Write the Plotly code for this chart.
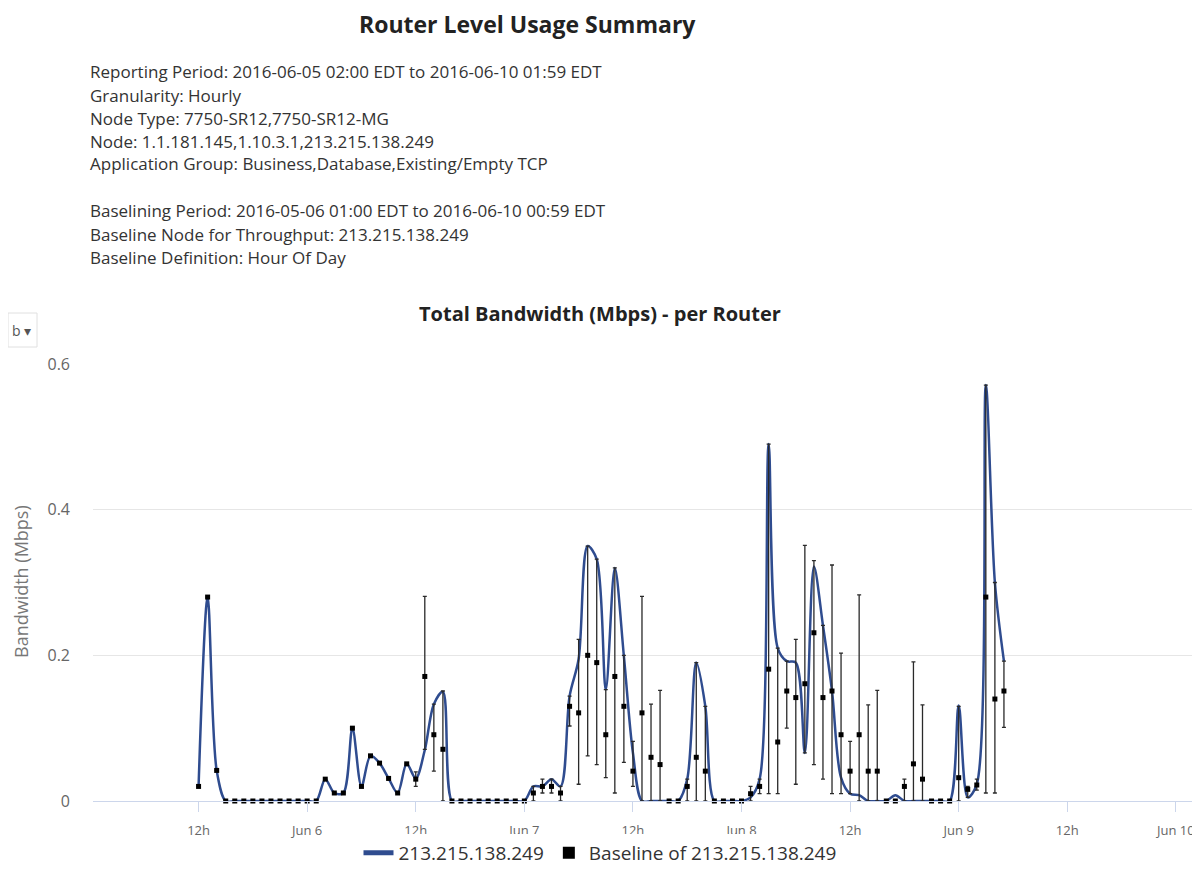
import plotly.graph_objects as go
import pandas as pd

# ---------------- data ----------------
series_name = "213.215.138.249"
baseline_name = "Baseline of 213.215.138.249"
start_time = "2016-06-05 12:00"

bandwidth = [
    0.02, 0.28, 0.042, 0, 0, 0, 0, 0, 0, 0, 0, 0, 0, 0,
    0.03, 0.011, 0.011, 0.10, 0.02, 0.062, 0.052, 0.031, 0.011, 0.051, 0.031, 0.07, 0.133, 0.15,
    0, 0, 0, 0, 0, 0, 0, 0, 0,
    0.02, 0.02, 0.03, 0.02, 0.144, 0.195, 0.35, 0.332, 0.153, 0.32, 0.199, 0.066,
    0, 0, 0, 0, 0,
    0.03, 0.19, 0.13,
    0, 0, 0, 0,
    0.005, 0.03, 0.49, 0.21, 0.192, 0.19, 0.066, 0.322, 0.241, 0.151, 0.032, 0.01, 0.008,
    0, 0, 0, 0.008, 0, 0, 0, 0, 0, 0,
    0.131, 0.005, 0.023, 0.571, 0.30, 0.192,
]

baseline = [
    0.02, 0.28, 0.042, 0, 0, 0, 0, 0, 0, 0, 0, 0, 0, 0,
    0.03, 0.011, 0.011, 0.10, 0.02, 0.062, 0.052, 0.031, 0.011, 0.051,
    0.03, 0.171, 0.091, 0.071,
    0, 0, 0, 0, 0, 0, 0, 0, 0,
    0.011, 0.02, 0.02, 0.011, 0.13, 0.121, 0.2, 0.19, 0.091, 0.171, 0.13, 0.041,
    0.121, 0.06, 0.05, 0, 0,
    0.02, 0.06, 0.041,
    0, 0, 0, 0,
    0.01, 0.02, 0.181, 0.081, 0.151, 0.142, 0.161, 0.231, 0.142, 0.151, 0.091, 0.041, 0.091,
    0.041, 0.041, 0, 0, 0.02, 0.051, 0.03, 0, 0, 0,
    0.032, 0.016, 0.022, 0.28, 0.14, 0.151,
]

baseline_low = [
    0.02, 0.28, 0.042, 0, 0, 0, 0, 0, 0, 0, 0, 0, 0, 0,
    0.03, 0.011, 0.011, 0.10, 0.02, 0.062, 0.052, 0.031, 0.011, 0.051,
    0.02, 0.071, 0.041, 0,
    0, 0, 0, 0, 0, 0, 0, 0, 0,
    0, 0.011, 0.011, 0, 0.103, 0.023, 0.062, 0.05, 0.032, 0.011, 0.053, 0.02,
    0, 0, 0, 0, 0,
    0, 0, 0,
    0, 0, 0, 0,
    0, 0.01, 0.01, 0.01, 0.1, 0.023, 0.066, 0.05, 0.03, 0.01, 0.01, 0.01, 0,
    0, 0, 0, 0, 0, 0, 0, 0, 0, 0,
    0, 0.005, 0.015, 0.011, 0.011, 0.101,
]

baseline_high = [
    0.02, 0.28, 0.042, 0, 0, 0, 0, 0, 0, 0, 0, 0, 0, 0,
    0.03, 0.011, 0.011, 0.10, 0.02, 0.062, 0.052, 0.031, 0.011, 0.051,
    0.04, 0.281, 0.133, 0.151,
    0, 0, 0, 0, 0, 0, 0, 0, 0,
    0.02, 0.03, 0.03, 0.02, 0.144, 0.222, 0.35, 0.332, 0.153, 0.32, 0.2, 0.082,
    0.281, 0.133, 0.152, 0, 0,
    0.03, 0.19, 0.13,
    0, 0, 0, 0,
    0.02, 0.03, 0.49, 0.21, 0.192, 0.222, 0.351, 0.33, 0.241, 0.324, 0.203, 0.082, 0.283,
    0.132, 0.152, 0, 0, 0.03, 0.191, 0.132, 0, 0, 0,
    0.13, 0.02, 0.03, 0.571, 0.30, 0.192,
]

tick_dates = ["2016-06-05 12:00", "2016-06-06 00:00", "2016-06-06 12:00", "2016-06-07 00:00",
              "2016-06-07 12:00", "2016-06-08 00:00", "2016-06-08 12:00", "2016-06-09 00:00",
              "2016-06-09 12:00", "2016-06-10 00:00"]
tick_labels = ["12h", "Jun 6", "12h", "Jun 7", "12h", "Jun 8", "12h", "Jun 9", "12h", "Jun 10"]
y_ticks = [0, 0.2, 0.4, 0.6]
y_tick_labels = ["0", "0.2", "0.4", "0.6"]
x_range = ["2016-06-05 00:20", "2016-06-10 02:40"]

report_title = "Router Level Usage Summary"
chart_title = "Total Bandwidth (Mbps) - per Router"
y_title = "Bandwidth (Mbps)"
info_lines = [
    "Reporting Period: 2016-06-05 02:00 EDT to 2016-06-10 01:59 EDT",
    "Granularity: Hourly",
    "Node Type: 7750-SR12,7750-SR12-MG",
    "Node: 1.1.181.145,1.10.3.1,213.215.138.249",
    "Application Group: Business,Database,Existing/Empty TCP",
    "",
    "Baselining Period: 2016-05-06 01:00 EDT to 2016-06-10 00:59 EDT",
    "Baseline Node for Throughput: 213.215.138.249",
    "Baseline Definition: Hour Of Day",
]

# ---------------- layout geometry (figure pixels; page body adds an 8px margin) ----------------
OFF = 8
W, H = 1200 - OFF, 886 - 2 * OFF
PL, PR, PT, PB = 93 - OFF, W, 364 - OFF, 801 - OFF
FONT = "Open Sans"


def px(sx):
    return (sx - OFF - PL) / (PR - PL)


def py(sy):
    return (PB - (sy - OFF)) / (PB - PT)


times = pd.date_range(start_time, periods=len(bandwidth), freq="h")
err_plus = [h - b for h, b in zip(baseline_high, baseline)]
err_minus = [b - l for b, l in zip(baseline, baseline_low)]

fig = go.Figure()
fig.add_trace(go.Scatter(
    x=times, y=bandwidth, name=series_name, mode="lines",
    line=dict(color="#2f4c8f", width=2.5, shape="spline", smoothing=0.9),
))
fig.add_trace(go.Scatter(
    x=times, y=baseline, name=baseline_name, mode="markers",
    marker=dict(symbol="square", size=5, color="#000000"),
    error_y=dict(type="data", symmetric=False, array=err_plus, arrayminus=err_minus,
                 color="#2a2a2a", thickness=1.3, width=2),
    cliponaxis=False,
))

annotations = [
    dict(text="<b>" + report_title + "</b>", x=px(527), y=py(24), xanchor="center", yanchor="middle",
         font=dict(family=FONT, size=23, color="#222222")),
    dict(text="<b>" + chart_title + "</b>", x=px(600), y=py(314), xanchor="center", yanchor="middle",
         font=dict(family=FONT, size=20, color="#222222")),
    dict(text=y_title, x=px(21), y=py(581), xanchor="center", yanchor="middle", textangle=-90,
         font=dict(family=FONT, size=18, color="#777777")),
    dict(text="b \u25be", x=px(33), y=py(330), xanchor="right", yanchor="middle",
         font=dict(family=FONT, size=14, color="#555555")),
]
line_y = [72, 95, 118, 141, 164, 187, 211, 234, 257]
for txt, yy in zip(info_lines, line_y):
    if txt:
        annotations.append(dict(text=txt, x=px(88), y=py(yy), xanchor="left", yanchor="middle",
                                font=dict(family=FONT, size=17, color="#333333")))
for a in annotations:
    a.update(xref="paper", yref="paper", showarrow=False)

fig.update_layout(
    width=W, height=H,
    margin=dict(l=PL, r=0, t=PT, b=H - PB, pad=0),
    paper_bgcolor="white", plot_bgcolor="white",
    font=dict(family=FONT, size=13, color="#666666"),
    showlegend=True,
    legend=dict(orientation="h", x=px(600), xanchor="center", y=py(853), yanchor="middle",
                font=dict(family=FONT, size=19, color="#333333"), itemsizing="constant"),
    annotations=annotations,
    shapes=[dict(type="rect", xref="paper", yref="paper", x0=px(8), x1=px(37), y0=py(347), y1=py(313),
                 line=dict(color="#e0e0e0", width=1), fillcolor="rgba(0,0,0,0)")],
    xaxis=dict(type="date", range=x_range, tickvals=tick_dates, ticktext=tick_labels,
               showgrid=False, showline=True, linecolor="#ccd6eb", linewidth=1,
               ticks="outside", ticklen=10, tickcolor="#ccd6eb", ticklabelstandoff=7,
               ticklabeloverflow="allow",
               tickfont=dict(family=FONT, size=13, color="#666666"), zeroline=False),
    yaxis=dict(range=[0, 0.6], tickvals=y_ticks, ticktext=y_tick_labels,
               showgrid=True, gridcolor="#e6e6e6", gridwidth=1, zeroline=False,
               ticklabelstandoff=22,
               tickfont=dict(family=FONT, size=16, color="#666666")),
)

fig.write_html("out.html")
